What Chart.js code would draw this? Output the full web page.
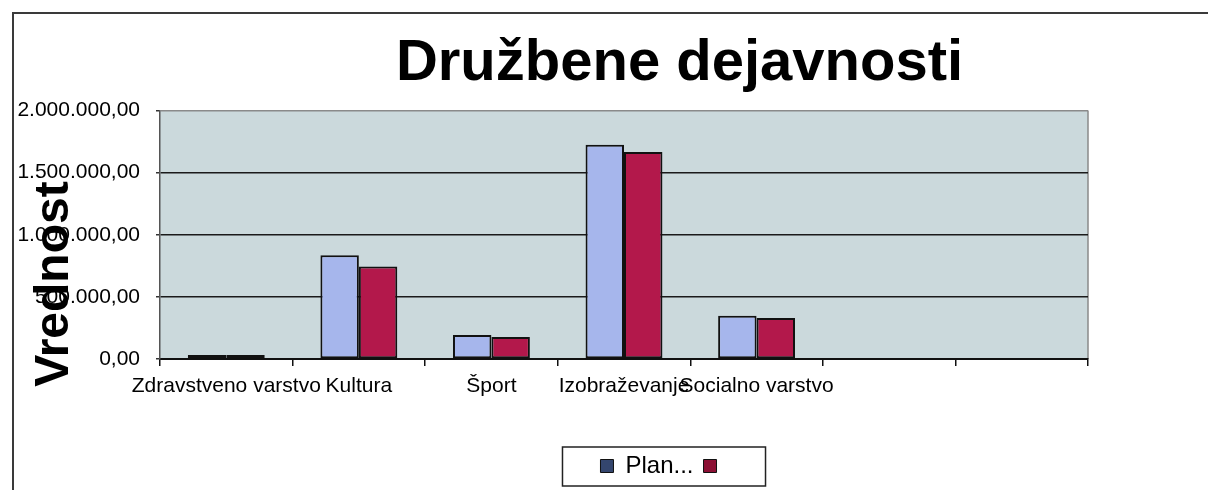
<!DOCTYPE html>
<html>
<head>
<meta charset="utf-8">
<title>Družbene dejavnosti</title>
<script src="https://cdn.jsdelivr.net/npm/chart.js@4.4.1/dist/chart.umd.min.js"></script>
<style>
  html, body { margin: 0; padding: 0; background: #fff; overflow: hidden; }
  body { width: 1208px; height: 490px; position: relative; }
  #frame { position: absolute; left: 12px; top: 12px; width: 1400px; height: 600px;
           border-left: 2px solid #3a3a3a; border-top: 2px solid #3a3a3a; }
  #chart { position: absolute; left: 0; top: 0; }
</style>
</head>
<body>
<div id="frame"></div>
<canvas id="chart" width="1359" height="490"></canvas>
<script>
// ---- data ----
const chartTitle = 'Družbene dejavnosti';
const yAxisTitle = 'Vrednost';
const categories = ['Zdravstveno varstvo', 'Kultura', 'Šport', 'Izobraževanje', 'Socialno varstvo', '', ''];
const planValues = [33000, 835000, 194000, 1725000, 348000, null, null];
const realValues = [32000, 745000, 178000, 1666000, 330000, null, null];
const seriesLabels = ['Plan...', ''];
const yTickLabels = ['0,00', '500.000,00', '1.000.000,00', '1.500.000,00', '2.000.000,00'];

const FONT = "'Liberation Sans', Arial, sans-serif";
const CANVAS_W = 1359;

// plot area fill + right border
const plotBackground = {
  id: 'plotBackground',
  beforeDraw(chart) {
    const { ctx, chartArea: a } = chart;
    ctx.save();
    ctx.fillStyle = '#cbd9dc';
    ctx.fillRect(a.left, a.top, a.right - a.left, a.bottom - a.top);
    ctx.strokeStyle = '#8a8a8a';
    ctx.lineWidth = 1.5;
    ctx.beginPath();
    ctx.moveTo(a.right, a.top);
    ctx.lineTo(a.right, a.bottom);
    ctx.stroke();
    ctx.restore();
  }
};

// big rotated y title that sits over the tick labels
const yTitle = {
  id: 'yTitle',
  afterDraw(chart) {
    const ctx = chart.ctx;
    ctx.save();
    ctx.translate(55, 284);
    ctx.rotate(-Math.PI / 2);
    ctx.font = 'bold 48px ' + FONT;
    ctx.fillStyle = '#000';
    ctx.textAlign = 'center';
    ctx.textBaseline = 'middle';
    ctx.fillText(yAxisTitle, 0, 0);
    ctx.restore();
  }
};

// the legend sits a bit left of the title's centre in the original
const legendShift = {
  id: 'legendShift',
  afterLayout(chart) {
    chart.legend.left -= 15;
    chart.legend.right -= 15;
  }
};

// box round the legend
const legendBox = {
  id: 'legendBox',
  afterDraw(chart) {
    const hb = chart.legend.legendHitBoxes;
    if (!hb || !hb.length) return;
    const first = hb[0], last = hb[hb.length - 1];
    const x0 = first.left - 38, x1 = last.left + last.width + 37;
    const y0 = first.top - 7, y1 = first.top + first.height + 8;
    const ctx = chart.ctx;
    ctx.save();
    ctx.strokeStyle = '#222';
    ctx.lineWidth = 1.5;
    ctx.strokeRect(x0, y0, x1 - x0, y1 - y0);
    ctx.restore();
  }
};

new Chart(document.getElementById('chart'), {
  type: 'bar',
  data: {
    labels: categories,
    datasets: [
      { label: seriesLabels[0], data: planValues, backgroundColor: '#a6b6ec', borderColor: '#111', borderWidth: 2, borderSkipped: false },
      { label: seriesLabels[1], data: realValues, backgroundColor: '#b3184b', borderColor: '#111', borderWidth: 2, borderSkipped: false }
    ]
  },
  options: {
    responsive: false,
    animation: false,
    datasets: { bar: { categoryPercentage: 0.58, barPercentage: 1 } },
    layout: { padding: { top: 12, bottom: 2, left: 0, right: 0 } },
    plugins: {
      title: {
        display: true,
        text: chartTitle,
        color: '#000',
        font: { family: FONT, size: 58, weight: 'bold' },
        padding: { top: 17, bottom: 12 }
      },
      legend: {
        position: 'bottom',
        labels: {
          color: '#000',
          font: { family: FONT, size: 24 },
          boxWidth: 13,
          boxHeight: 13,
          padding: 10,
          generateLabels(chart) {
            const fills = ['#34466e', '#8c1034'];
            return chart.data.datasets.map((ds, i) => ({
              text: ds.label,
              fillStyle: fills[i],
              strokeStyle: '#111',
              lineWidth: 1,
              datasetIndex: i
            }));
          }
        }
      },
      tooltip: { enabled: false }
    },
    scales: {
      x: {
        afterFit(scale) { scale.height = 85; },
        grid: { drawOnChartArea: false, drawTicks: true, tickLength: 7, color: '#111', lineWidth: 1.5 },
        border: { display: true, color: '#111', width: 2 },
        ticks: {
          autoSkip: false, maxRotation: 0, minRotation: 0, padding: 8,
          color: '#000', font: { family: FONT, size: 21 }
        }
      },
      y: {
        min: 0,
        max: 2000000,
        afterFit(scale) { scale.width = 160; },
        grid: {
          color: ctx => (ctx.tick && ctx.tick.value === 2000000 ? '#8a8a8a' : '#1a1a1a'),
          lineWidth: 1.5,
          drawTicks: true,
          tickLength: 4,
          tickColor: '#333'
        },
        border: { display: true, color: '#555', width: 1.5 },
        ticks: {
          stepSize: 500000,
          padding: 16,
          color: '#000',
          font: { family: FONT, size: 21 },
          callback: (v, i) => yTickLabels[i]
        }
      },
      yRight: {
        position: 'right',
        display: true,
        afterFit(scale) { scale.width = CANVAS_W - 1088; },
        grid: { display: false },
        border: { display: false },
        ticks: { display: false }
      }
    }
  },
  plugins: [plotBackground, yTitle, legendShift, legendBox]
});
</script>
</body>
</html>
